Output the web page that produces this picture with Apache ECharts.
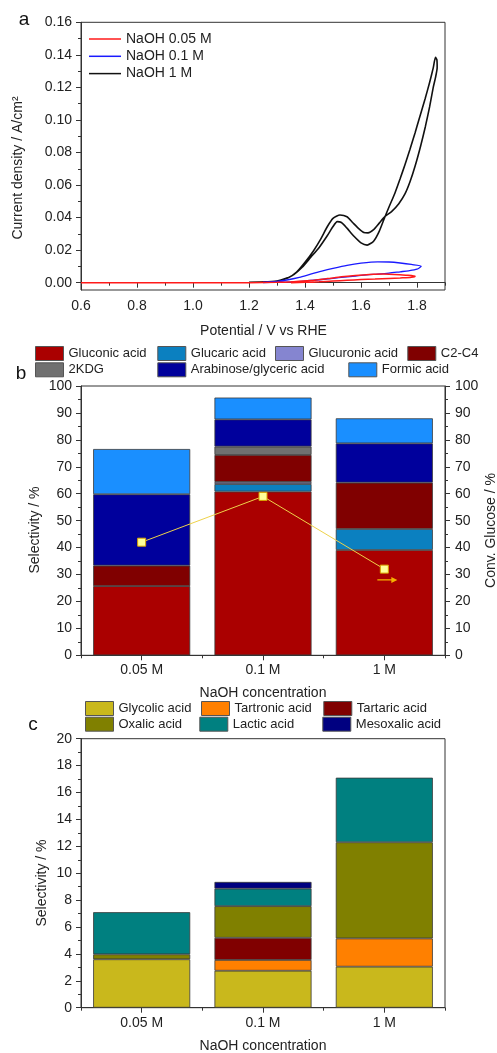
<!DOCTYPE html>
<html>
<head>
<meta charset="utf-8">
<script src="https://cdn.jsdelivr.net/npm/echarts@6/dist/echarts.min.js"></script>
<style>
html,body{margin:0;padding:0;background:#fff;}
#c{width:497px;height:1053px;}
</style>
</head>
<body>
<div id="c"></div>
<script>
// ---------- Panel a: cyclic voltammetry (potential V vs RHE, current density A/cm2) ----------
const cvNaOH005 = [[0.6,0],[0.8,0],[1.0,0],[1.2,0],[1.3,0.0002],[1.36,0.0006],[1.42,0.0013],[1.48,0.0025],[1.53,0.0036],[1.58,0.0044],[1.63,0.005],[1.68,0.0053],[1.72,0.0051],[1.76,0.0046],[1.793,0.0040],[1.78,0.0033],[1.74,0.0029],[1.70,0.0026],[1.65,0.0022],[1.60,0.0019],[1.55,0.0015],[1.50,0.0010],[1.45,0.0005],[1.40,0.0002],[1.35,0]];
const cvNaOH01 = [[1.25,0.0003],[1.30,0.0008],[1.34,0.0018],[1.38,0.0032],[1.42,0.0052],[1.46,0.0071],[1.50,0.0088],[1.55,0.0107],[1.60,0.0120],[1.66,0.0128],[1.70,0.0127],[1.74,0.0121],[1.78,0.0112],[1.815,0.0101],[1.80,0.0083],[1.77,0.0073],[1.74,0.0067],[1.70,0.0059],[1.66,0.0053],[1.62,0.0048],[1.58,0.0041],[1.54,0.0034],[1.50,0.0027],[1.45,0.0018],[1.40,0.0010],[1.35,0.0005],[1.30,0.0002],[1.25,0.0001]];
const cvNaOH1 = [[1.20,0.0003],[1.26,0.0005],[1.30,0.001],[1.33,0.0025],[1.36,0.005],[1.39,0.0095],[1.42,0.0155],[1.45,0.0215],[1.48,0.029],[1.50,0.0345],[1.515,0.0375],[1.53,0.037],[1.55,0.0335],[1.575,0.0285],[1.60,0.0245],[1.622,0.0231],[1.645,0.0255],[1.665,0.0315],[1.686,0.0407],[1.70,0.0465],[1.721,0.055],[1.74,0.064],[1.757,0.0725],[1.775,0.082],[1.793,0.092],[1.81,0.102],[1.829,0.113],[1.845,0.123],[1.858,0.132],[1.866,0.1385],[1.871,0.137],[1.872,0.132],[1.866,0.126],[1.858,0.12],[1.845,0.108],[1.83,0.096],[1.813,0.084],[1.793,0.0715],[1.775,0.062],[1.757,0.0545],[1.735,0.0485],[1.71,0.0438],[1.686,0.0407],[1.665,0.0366],[1.645,0.0326],[1.625,0.0306],[1.61,0.0308],[1.59,0.0335],[1.57,0.037],[1.55,0.0405],[1.525,0.0416],[1.50,0.0395],[1.48,0.0345],[1.455,0.0265],[1.43,0.0195],[1.40,0.0125],[1.37,0.0065],[1.34,0.003],[1.30,0.001],[1.25,0.0004],[1.20,0.0003]];
const aXTicks = [0.6,0.8,1.0,1.2,1.4,1.6,1.8];
const aXMinorTicks = [0.7,0.9,1.1,1.3,1.5,1.7,1.9];
const aYTicks = [0,0.02,0.04,0.06,0.08,0.10,0.12,0.14,0.16];
const aYMinorTicks = [0.01,0.03,0.05,0.07,0.09,0.11,0.13,0.15];

// ---------- Panel b: selectivity (%) ----------
const categories = ['0.05 M','0.1 M','1 M'];
const gluconic   = [25.7, 60.8, 39.1];
const glucaric   = [0, 2.8, 7.8];
const glucuronic = [0, 0.8, 0];
const c2c4       = [7.6, 10.0, 17.2];
const kdg        = [0, 3.1, 0];
const arabinose  = [26.5, 10.1, 14.6];
const formic     = [16.8, 8.1, 9.3];
const conversion = [42, 59, 32];

// ---------- Panel c: C2-C4 selectivity (%) ----------
const glycolic  = [3.6, 2.75, 3.05];
const tartronic = [0, 0.8, 2.1];
const tartaric  = [0, 1.65, 0];
const oxalic    = [0.37, 2.35, 7.15];
const lactic    = [3.13, 1.3, 4.8];
const mesoxalic = [0, 0.5, 0];

const FONT = 'Liberation Sans, Arial, Helvetica, sans-serif';
const AX = '#333';
const TXT = '#222';
const nz = arr => arr.map(v => v === 0 ? '-' : v);

function barSeries(name, data, color, xi, yi, stack) {
  return {
    name: name, type: 'bar', stack: stack, xAxisIndex: xi, yAxisIndex: yi,
    data: nz(data), barWidth: '80%',
    itemStyle: { color: color, borderColor: '#3a3a3a', borderWidth: 0.8 },
    emphasis: { disabled: true }
  };
}
function oneLegend(name, left, top, size) {
  return {
    data: [name], left: left, top: top, orient: 'horizontal',
    icon: 'rect', itemWidth: 28, itemHeight: 14, itemGap: 0, padding: 0,
    selectedMode: false,
    itemStyle: { borderColor: '#555', borderWidth: 1 },
    textStyle: { fontFamily: FONT, fontSize: size, color: TXT, padding: [0,0,0,0] }
  };
}
function axisLineStyle() { return { show: true, lineStyle: { color: AX, width: 1 } }; }

const gridA = { left: 81, top: 22.3, width: 364, height: 267.7, show: true, borderColor: AX, borderWidth: 1, backgroundColor: 'transparent' };
const gridB = { left: 81, top: 386, width: 364, height: 269.3, show: true, borderColor: AX, borderWidth: 1, backgroundColor: 'transparent' };
const gridC = { left: 81, top: 738.7, width: 364, height: 269, show: true, borderColor: AX, borderWidth: 1, backgroundColor: 'transparent' };

const labelStyle = { fontFamily: FONT, fontSize: 14, color: TXT };

const option = {
  animation: false,
  backgroundColor: '#fff',
  grid: [gridA, gridB, gridC],
  legend: [
    {
      data: ['NaOH 0.05 M','NaOH 0.1 M','NaOH 1 M'], orient: 'vertical', left: 89, top: 32,
      icon: 'path://M0,0 L32,0 L32,1.5 L0,1.5 Z',
      itemWidth: 32, itemHeight: 14, itemGap: 3.3, padding: 0, selectedMode: false,
      textStyle: { fontFamily: FONT, fontSize: 14, color: TXT }
    },
    oneLegend('Gluconic acid', 35, 346, 13),
    oneLegend('Glucaric acid', 157.3, 346, 13),
    oneLegend('Glucuronic acid', 275, 346, 13),
    oneLegend('C2-C4', 407.3, 346, 13),
    oneLegend('2KDG', 35, 362.3, 13),
    oneLegend('Arabinose/glyceric acid', 157.3, 362.3, 13),
    oneLegend('Formic acid', 348.3, 362.3, 13),
    oneLegend('Glycolic acid', 85, 701, 13),
    oneLegend('Tartronic acid', 201, 701, 13),
    oneLegend('Tartaric acid', 323.3, 701, 13),
    oneLegend('Oxalic acid', 85, 716.7, 13),
    oneLegend('Lactic acid', 199.3, 716.7, 13),
    oneLegend('Mesoxalic acid', 322.3, 716.7, 13)
  ],
  xAxis: [
    { // 0 a main
      type: 'value', gridIndex: 0, min: 0.6, max: 1.9, position: 'bottom',
      axisLine: axisLineStyle(), splitLine: { show: false },
      axisTick: { show: true, length: 5, lineStyle: { color: AX }, customValues: aXTicks },
      axisLabel: Object.assign({ margin: 9, customValues: aXTicks, formatter: v => v.toFixed(1) }, labelStyle)
    },
    { // 1 a minor
      type: 'value', gridIndex: 0, min: 0.6, max: 1.9, position: 'bottom',
      axisLine: { show: false }, splitLine: { show: false }, axisLabel: { show: false },
      axisTick: { show: true, length: 3, lineStyle: { color: AX }, customValues: aXMinorTicks }
    },
    { // 2 b categories
      type: 'category', gridIndex: 1, data: categories, position: 'bottom',
      axisLine: axisLineStyle(),
      axisTick: { show: true, alignWithLabel: true, length: 5, lineStyle: { color: AX } },
      axisLabel: Object.assign({ margin: 8 }, labelStyle)
    },
    { // 3 b boundary ticks
      type: 'category', gridIndex: 1, data: categories, position: 'bottom',
      axisLine: { show: false }, axisLabel: { show: false },
      axisTick: { show: true, length: 3, lineStyle: { color: AX } }
    },
    { // 4 c categories
      type: 'category', gridIndex: 2, data: categories, position: 'bottom',
      axisLine: axisLineStyle(),
      axisTick: { show: true, alignWithLabel: true, length: 5, lineStyle: { color: AX } },
      axisLabel: Object.assign({ margin: 8 }, labelStyle)
    },
    { // 5 c boundary ticks
      type: 'category', gridIndex: 2, data: categories, position: 'bottom',
      axisLine: { show: false }, axisLabel: { show: false },
      axisTick: { show: true, length: 3, lineStyle: { color: AX } }
    }
  ],
  yAxis: [
    { // 0 a main
      type: 'value', gridIndex: 0, min: -0.0045, max: 0.16, position: 'left',
      axisLine: axisLineStyle(), splitLine: { show: false },
      axisTick: { show: true, length: 5, lineStyle: { color: AX }, customValues: aYTicks },
      axisLabel: Object.assign({ margin: 9, customValues: aYTicks, formatter: v => v.toFixed(2) }, labelStyle)
    },
    { // 1 a minor
      type: 'value', gridIndex: 0, min: -0.0045, max: 0.16, position: 'left',
      axisLine: { show: false }, splitLine: { show: false }, axisLabel: { show: false },
      axisTick: { show: true, length: 3, lineStyle: { color: AX }, customValues: aYMinorTicks }
    },
    { // 2 b left
      type: 'value', gridIndex: 1, min: 0, max: 100, interval: 10, position: 'left',
      axisLine: axisLineStyle(), splitLine: { show: false },
      axisTick: { show: true, length: 5, lineStyle: { color: AX } },
      minorTick: { show: true, splitNumber: 2, length: 3, lineStyle: { color: AX } },
      axisLabel: Object.assign({ margin: 9 }, labelStyle)
    },
    { // 3 b right
      type: 'value', gridIndex: 1, min: 0, max: 100, interval: 10, position: 'right',
      axisLine: axisLineStyle(), splitLine: { show: false },
      axisTick: { show: true, length: 5, lineStyle: { color: AX } },
      minorTick: { show: true, splitNumber: 2, length: 3, lineStyle: { color: AX } },
      axisLabel: Object.assign({ margin: 10 }, labelStyle)
    },
    { // 4 c left
      type: 'value', gridIndex: 2, min: 0, max: 20, interval: 2, position: 'left',
      axisLine: axisLineStyle(), splitLine: { show: false },
      axisTick: { show: true, length: 5, lineStyle: { color: AX } },
      minorTick: { show: true, splitNumber: 2, length: 3, lineStyle: { color: AX } },
      axisLabel: Object.assign({ margin: 9 }, labelStyle)
    }
  ],
  series: [
    { name: 'NaOH 1 M', type: 'line', xAxisIndex: 0, yAxisIndex: 0, data: cvNaOH1, symbol: 'none', smooth: 0.2,
      lineStyle: { color: '#111', width: 1.6 }, itemStyle: { color: '#111' } },
    { name: 'NaOH 0.1 M', type: 'line', xAxisIndex: 0, yAxisIndex: 0, data: cvNaOH01, symbol: 'none', smooth: 0.25,
      lineStyle: { color: '#1a1aff', width: 1.3 }, itemStyle: { color: '#1a1aff' } },
    { name: 'NaOH 0.05 M', type: 'line', xAxisIndex: 0, yAxisIndex: 0, data: cvNaOH005, symbol: 'none', smooth: 0.25,
      lineStyle: { color: '#ff1a1a', width: 1.5 }, itemStyle: { color: '#ff1a1a' } },

    barSeries('Gluconic acid', gluconic, '#aa0000', 2, 2, 'b'),
    barSeries('Glucaric acid', glucaric, '#0b80c0', 2, 2, 'b'),
    barSeries('Glucuronic acid', glucuronic, '#8585d0', 2, 2, 'b'),
    barSeries('C2-C4', c2c4, '#800000', 2, 2, 'b'),
    barSeries('2KDG', kdg, '#707070', 2, 2, 'b'),
    barSeries('Arabinose/glyceric acid', arabinose, '#00009c', 2, 2, 'b'),
    barSeries('Formic acid', formic, '#1a8fff', 2, 2, 'b'),
    { name: 'Conv. Glucose', type: 'line', xAxisIndex: 2, yAxisIndex: 3, data: conversion, z: 5,
      symbol: 'rect', symbolSize: 8,
      lineStyle: { color: '#eed24a', width: 1 },
      itemStyle: { color: '#ffff99', borderColor: '#d9a400', borderWidth: 1 },
      markPoint: {
        symbol: 'path://M0,3.2 L14,3.2 L14,0.5 L20,4 L14,7.5 L14,4.8 L0,4.8 Z',
        symbolSize: [20, 6], symbolOffset: [3, 0],
        itemStyle: { color: '#f5b000' }, label: { show: false },
        data: [{ coord: ['1 M', 28] }]
      }
    },

    barSeries('Glycolic acid', glycolic, '#c9b81c', 4, 4, 'c'),
    barSeries('Tartronic acid', tartronic, '#ff8000', 4, 4, 'c'),
    barSeries('Tartaric acid', tartaric, '#800000', 4, 4, 'c'),
    barSeries('Oxalic acid', oxalic, '#808000', 4, 4, 'c'),
    barSeries('Lactic acid', lactic, '#008080', 4, 4, 'c'),
    barSeries('Mesoxalic acid', mesoxalic, '#000080', 4, 4, 'c')
  ],
  graphic: [
    { type: 'text', x: 24, y: 20, style: { text: 'a', font: '19px ' + FONT, fill: '#111', textAlign: 'center', textVerticalAlign: 'middle' } },
    { type: 'text', x: 21, y: 374, style: { text: 'b', font: '19px ' + FONT, fill: '#111', textAlign: 'center', textVerticalAlign: 'middle' } },
    { type: 'text', x: 33, y: 725, style: { text: 'c', font: '19px ' + FONT, fill: '#111', textAlign: 'center', textVerticalAlign: 'middle' } },
    { type: 'text', x: 18, y: 168, rotation: Math.PI / 2, style: { text: 'Current density / A/cm²', font: '14px ' + FONT, fill: TXT, textAlign: 'center', textVerticalAlign: 'middle' } },
    { type: 'text', x: 263.5, y: 331, style: { text: 'Potential / V vs RHE', font: '14px ' + FONT, fill: TXT, textAlign: 'center', textVerticalAlign: 'middle' } },
    { type: 'text', x: 35, y: 530, rotation: Math.PI / 2, style: { text: 'Selectivity / %', font: '14px ' + FONT, fill: TXT, textAlign: 'center', textVerticalAlign: 'middle' } },
    { type: 'text', x: 491, y: 530.5, rotation: Math.PI / 2, style: { text: 'Conv. Glucose / %', font: '14px ' + FONT, fill: TXT, textAlign: 'center', textVerticalAlign: 'middle' } },
    { type: 'text', x: 263, y: 693.5, style: { text: 'NaOH concentration', font: '14px ' + FONT, fill: TXT, textAlign: 'center', textVerticalAlign: 'middle' } },
    { type: 'text', x: 41.7, y: 883, rotation: Math.PI / 2, style: { text: 'Selectivity / %', font: '14px ' + FONT, fill: TXT, textAlign: 'center', textVerticalAlign: 'middle' } },
    { type: 'text', x: 263, y: 1046.5, style: { text: 'NaOH concentration', font: '14px ' + FONT, fill: TXT, textAlign: 'center', textVerticalAlign: 'middle' } }
  ]
};

const chart = echarts.init(document.getElementById('c'), null, { renderer: 'canvas', width: 497, height: 1053 });
chart.setOption(option);
</script>
</body>
</html>
